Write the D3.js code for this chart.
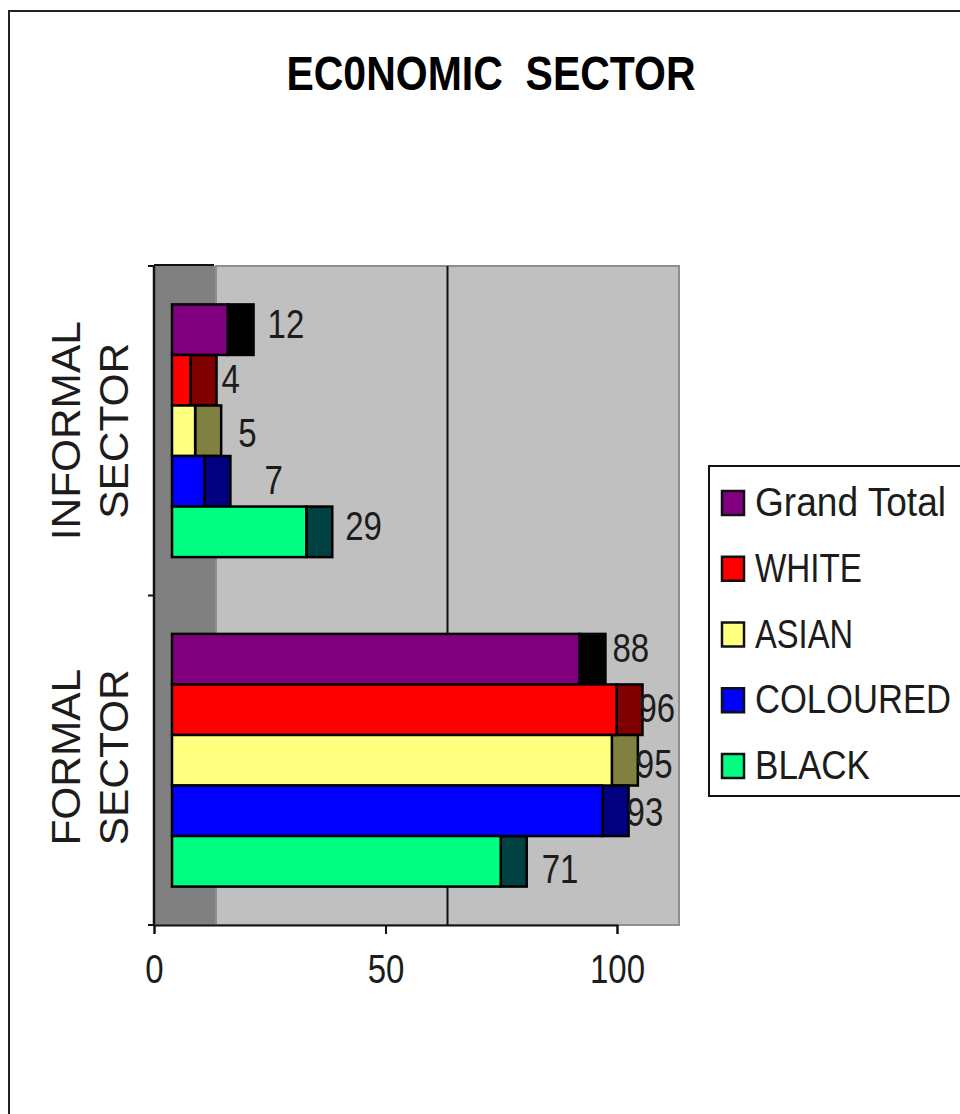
<!DOCTYPE html>
<html>
<head>
<meta charset="utf-8">
<script src="https://cdn.jsdelivr.net/npm/d3@7"></script>
<style>
html,body{margin:0;padding:0;background:#fff;overflow:hidden}
svg{display:block}
text{font-family:"Liberation Sans",Arial,sans-serif;fill:#1c1c1c}
</style>
</head>
<body>
<svg id="chart" width="960" height="1114"></svg>
<script>
const title = "EC0NOMIC  SECTOR";
const sectors = ["INFORMAL SECTOR", "FORMAL SECTOR"];
const seriesNames = ["Grand Total", "WHITE", "ASIAN", "COLOURED", "BLACK"];
const informalValues = [12, 4, 5, 7, 29];
const formalValues = [88, 96, 95, 93, 71];
const xTicks = [0, 50, 100];
const faceColours = ["#800080", "#ff0000", "#ffff80", "#0000ff", "#00ff80"];
const sideColours = ["#000000", "#800000", "#808040", "#000080", "#004040"];

// manual label nudges (px from the end of the bar / bar middle), as placed in the source chart
const informalNudge = [14, 5, 17, 34, 13];
const formalNudge = [7, -4, -2, -2, 15];
const informalNudgeY = [-6, -1, 2, -1, -6];
const formalNudgeY = [-11, -2, 4, 1, 8];
const legendTextWidths = [191, 107, 98, 196, 115];

const svg = d3.select("#chart");
const W = {x0: 154, y0: 266, y1: 925, depth: 62};
const x = d3.scaleLinear().domain([0, 100]).range([W.x0, 617]);
const ySector = d3.scaleBand().domain(sectors).range([W.y0, W.y1]);
const ySeries = d3.scaleBand().domain(seriesNames)
  .range([0, ySector.bandwidth()]).paddingOuter(0.76).paddingInner(0);
const barShift = 18, barDepth = 26;

// outer frame
svg.append("rect").attr("x", 9).attr("y", 11).attr("width", 1000).attr("height", 1200)
  .attr("fill", "#fff").attr("stroke", "#222").attr("stroke-width", 2);

// title
svg.append("text").attr("transform", "translate(491,90) scale(1,1.18)")
  .attr("text-anchor", "middle").attr("font-size", 41).attr("font-weight", "bold")
  .style("white-space", "pre").style("fill", "#000").text(title);

// walls
svg.append("rect").attr("x", W.x0).attr("y", W.y0).attr("width", W.depth).attr("height", W.y1 - W.y0).attr("fill", "#808080");
svg.append("rect").attr("x", W.x0 + W.depth).attr("y", W.y0)
  .attr("width", x(100) - x(0)).attr("height", W.y1 - W.y0)
  .attr("fill", "#c0c0c0").attr("stroke", "#8e8e8e").attr("stroke-width", 2);

// gridline at 50, drawn on the back wall
svg.append("line").attr("x1", x(50) + W.depth).attr("x2", x(50) + W.depth)
  .attr("y1", W.y0).attr("y2", W.y1).attr("stroke", "#111").attr("stroke-width", 2);

// axes
const xAxis = d3.axisBottom(x).tickValues(xTicks).tickSize(9).tickPadding(19);
const gx = svg.append("g").attr("transform", `translate(0,${W.y1})`).call(xAxis);
gx.select(".domain").attr("stroke", "#111").attr("stroke-width", 2);
gx.selectAll(".tick line").attr("stroke", "#111").attr("stroke-width", 2);
gx.selectAll(".tick text").remove();
gx.selectAll(".tick").append("text")
  .attr("transform", "translate(0,58) scale(1,1.25)")
  .attr("text-anchor", "middle").attr("font-size", 33).text(d => d);

const yBounds = [W.y0, ySector(sectors[1]), W.y1];
svg.append("line").attr("x1", W.x0).attr("x2", W.x0).attr("y1", W.y0).attr("y2", W.y1).attr("stroke", "#111").attr("stroke-width", 2.5);
svg.selectAll(".ytick").data(yBounds).join("line").attr("class", "ytick")
  .attr("x1", W.x0 - 6).attr("x2", W.x0).attr("y1", d => d).attr("y2", d => d)
  .attr("stroke", "#111").attr("stroke-width", 2);
svg.append("line").attr("x1", W.x0).attr("x2", W.x0 + W.depth - 2).attr("y1", W.y0 - 1).attr("y2", W.y0 - 1).attr("stroke", "#111").attr("stroke-width", 2);

// bars
const rows = [];
sectors.forEach((s, si) => {
  const vals = si === 0 ? informalValues : formalValues;
  const nudges = si === 0 ? informalNudge : formalNudge;
  const nudgesY = si === 0 ? informalNudgeY : formalNudgeY;
  seriesNames.forEach((n, i) => rows.push({s, n, i, v: vals[i], nudge: nudges[i], nudgeY: nudgesY[i]}));
});
const barY = d => ySector(d.s) + ySeries(d.n);
const bars = svg.append("g");
bars.selectAll(".side").data(rows).join("rect").attr("class", "side")
  .attr("x", d => x(d.v) + barShift).attr("y", barY)
  .attr("width", barDepth).attr("height", ySeries.bandwidth())
  .attr("fill", d => sideColours[d.i]).attr("stroke", "#000").attr("stroke-width", 2.5);
bars.selectAll(".face").data(rows).join("rect").attr("class", "face")
  .attr("x", x(0) + barShift).attr("y", barY)
  .attr("width", d => x(d.v) - x(0)).attr("height", ySeries.bandwidth())
  .attr("fill", d => faceColours[d.i]).attr("stroke", "#000").attr("stroke-width", 2.5);

// data labels
svg.selectAll(".val").data(rows).join("text").attr("class", "val")
  .attr("transform", d => `translate(${x(d.v) + barShift + barDepth + d.nudge},${barY(d) + ySeries.bandwidth() / 2 + 14 + d.nudgeY}) scale(1,1.25)`)
  .attr("font-size", 33).text(d => d.v);

// category labels (two rotated lines)
sectors.forEach((s, si) => {
  const c = ySector(s) + ySector.bandwidth() / 2 + (si === 0 ? 0 : -3);
  const g = svg.append("g").attr("font-size", 40).attr("text-anchor", "middle");
  s.split(" ").forEach((w, i) => {
    g.append("text").attr("transform", `translate(${80 + i * 48},${c}) rotate(-90) scale(1.06,1)`).text(w);
  });
});

// legend
const lx = 709, ly = 466;
svg.append("rect").attr("x", lx).attr("y", ly).attr("width", 300).attr("height", 330)
  .attr("fill", "#fff").attr("stroke", "#111").attr("stroke-width", 2);
const yLegend = d3.scalePoint().domain(seriesNames).range([503, 766]);
const lg = svg.selectAll(".leg").data(seriesNames).join("g").attr("class", "leg")
  .attr("transform", d => `translate(0,${yLegend(d)})`);
lg.append("rect").attr("x", 722).attr("y", -12).attr("width", 22).attr("height", 24)
  .attr("fill", (d, i) => faceColours[i]).attr("stroke", "#111").attr("stroke-width", 2.5);
lg.append("text").attr("transform", "translate(755,13) scale(1,1.18)").attr("font-size", 35)
  .attr("textLength", (d, i) => legendTextWidths[i]).attr("lengthAdjust", "spacingAndGlyphs").text(d => d);
</script>
</body>
</html>
